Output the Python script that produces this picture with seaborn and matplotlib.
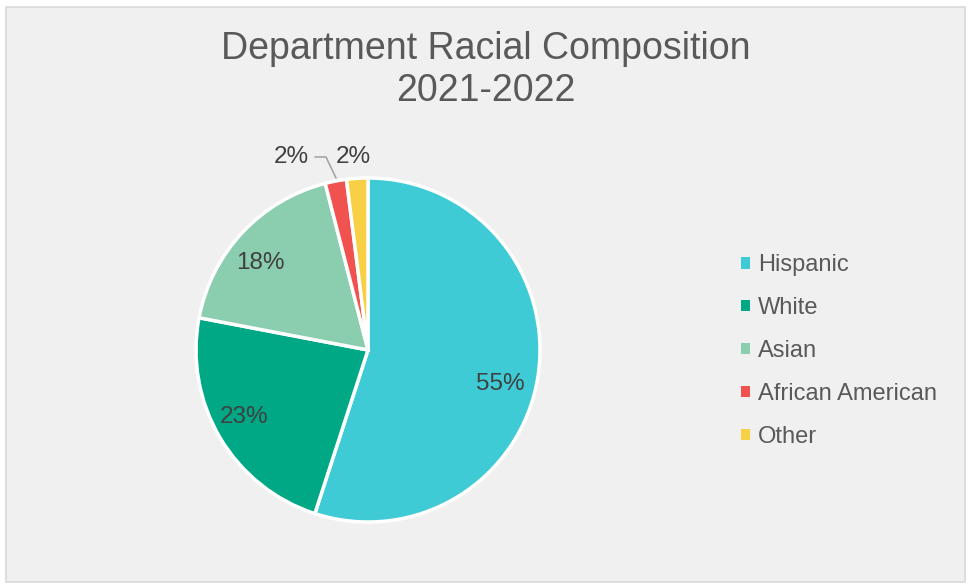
import matplotlib
matplotlib.use("Agg")
import matplotlib.pyplot as plt
import matplotlib.patches as mpatches
import seaborn as sns

categories = ["Hispanic", "White", "Asian", "African American", "Other"]
values = [55, 23, 18, 2, 2]
colors = ["#3FCBD6", "#00A886", "#8BCEAF", "#F0524F", "#F7D046"]
title = "Department Racial Composition\n2021-2022"

sns.set_style("white")
plt.rcParams["font.family"] = ["Liberation Sans", "DejaVu Sans"]
palette = sns.color_palette(colors)

W, H = 969, 584
fig = plt.figure(figsize=(W / 100, H / 100), dpi=100)
fig.patch.set_facecolor("white")

# chart area box
box = mpatches.Rectangle((6 / W, 2 / H), 959 / W, 575 / H, transform=fig.transFigure,
                         facecolor="#F0F0F0", edgecolor="#D9D9D9", linewidth=1.2, zorder=-5)
fig.patches.append(box)

fig.text(486 / W, 1 - 70 / H, title, ha="center", va="center", fontsize=27,
         color="#595959", linespacing=1.2)

cx, cy, r = 368, 350, 172
ax = fig.add_axes([(cx - r) / W, (H - cy - r) / H, 2 * r / W, 2 * r / H])
ax.set_facecolor("none")
ax.set_zorder(2)

def fmt(p):
    return f"{p:.0f}%" if p > 5 else ""

wedges, texts, autotexts = ax.pie(values, colors=palette, startangle=90, counterclock=False,
                                  autopct=fmt, pctdistance=0.8,
                                  wedgeprops=dict(edgecolor="white", linewidth=2.5),
                                  textprops=dict(fontsize=17.5, color="#404040"))
# nudge the largest label down a little, as in the original
x0, y0 = autotexts[0].get_position()
autotexts[0].set_position((x0 - 0.02, y0 - 0.07))
x1, y1 = autotexts[1].get_position()
autotexts[1].set_position((x1 - 0.03, y1 + 0.02))
x2, y2 = autotexts[2].get_position()
autotexts[2].set_position((x2 - 0.04, y2 - 0.04))

ax.set_xlim(-1, 1)
ax.set_ylim(-1, 1)
ax.set_aspect("equal")
ax.axis("off")

# small slices labels outside
ax.text((291 - cx) / r, (cy - 157) / r, f"{values[3]}%", ha="center", va="center",
        fontsize=17.5, color="#404040")
ax.text((353 - cx) / r, (cy - 157) / r, f"{values[4]}%", ha="center", va="center",
        fontsize=17.5, color="#404040")
ax.plot([(315 - cx) / r, (326 - cx) / r, (336 - cx) / r],
        [(cy - 157) / r, (cy - 157) / r, (cy - 178) / r],
        color="#A6A6A6", linewidth=1.2, clip_on=False)

handles = [mpatches.Patch(facecolor=c, edgecolor="none") for c in palette]
leg = fig.legend(handles, categories, loc="center left",
                 bbox_to_anchor=(720 / W, 1 - 351 / H), frameon=False,
                 fontsize=17, labelcolor="#595959", handlelength=0.35, handleheight=0.35,
                 handletextpad=0.35, labelspacing=0.88)

fig.savefig("out.png", dpi=100, facecolor="white")
